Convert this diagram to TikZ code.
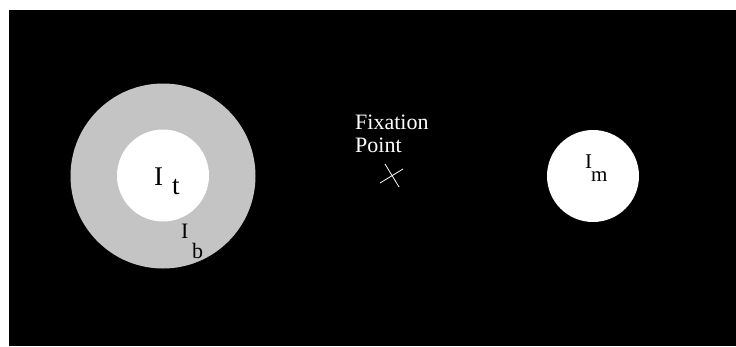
\documentclass[tikz,border=0pt]{standalone}
\usepackage{fontspec}
\setmainfont{Liberation Serif}
\definecolor{ringgray}{RGB}{196,196,196}
\usetikzlibrary{positioning}

\begin{document}
\begin{tikzpicture}[x=1pt, y=-1pt,
  disk/.style={circle, inner sep=0pt, draw=none},
  lbl/.style={anchor=base west, inner sep=0pt, text=black}]

\useasboundingbox (0,0) rectangle (736,346);

% --- Background ---
\fill[black] (9,10) rectangle (736,346);

% --- Left stimulus: test disk inside ring ---
\node[disk, fill=ringgray, minimum size=185pt] (ring) at (163,176) {};
\node[disk, fill=white, minimum size=92pt] (test) at (163,175.5) {};
\node[lbl, font=\fontsize{27}{30}\selectfont] (It) at (154,185) {I};
\node[lbl, font=\fontsize{27}{30}\selectfont] (Its) at (172,194) {t};
\node[lbl, font=\fontsize{22}{25}\selectfont] (Ib) at (181,238) {I};
\node[lbl, font=\fontsize{22}{25}\selectfont] (Ibs) at (192,258) {b};

% --- Fixation point ---
\node[lbl, text=white, font=\fontsize{22}{23}\selectfont] (fixa) at (355,129) {Fixation};
\node[lbl, text=white, font=\fontsize{22}{23}\selectfont] (point) at (355,152) {Point};
\coordinate (fix) at (392,176);
\draw[white, line width=0.8pt] (380,183) -- (403,169);
\draw[white, line width=0.8pt] (385,164) -- (399,187);

% --- Right stimulus: match disk ---
\node[disk, fill=white, minimum size=92pt] (match) at (593,176) {};
\node[lbl, font=\fontsize{21}{23}\selectfont] (Im) at (585,168) {I};
\node[lbl, font=\fontsize{21}{23}\selectfont] (Ims) at (591,181) {m};

\end{tikzpicture}
\end{document}
